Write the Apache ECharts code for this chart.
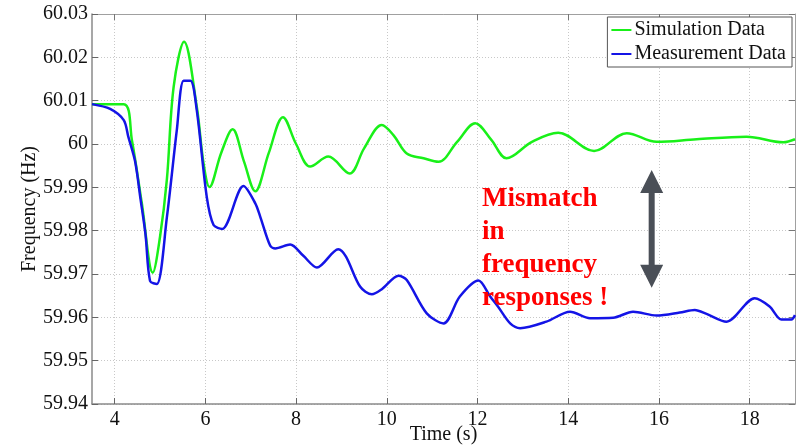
<!DOCTYPE html>
<html>
<head>
<meta charset="utf-8">
<script src="https://cdn.jsdelivr.net/npm/echarts@6/dist/echarts.min.js"></script>
<style>
  html, body { margin: 0; padding: 0; background: #ffffff; }
  #chart { width: 802px; height: 446px; }
</style>
</head>
<body>
<div id="chart"></div>
<script>
// Time (s) / frequency (Hz) samples for both traces
const simTime = [3.5, 4.2, 4.38, 4.6, 4.84, 5.0, 5.15, 5.3, 5.53, 5.81, 5.96, 6.09, 6.35, 6.6, 6.85, 7.1, 7.4, 7.71, 8.0, 8.31, 8.71, 9.18, 9.5, 9.89, 10.15, 10.44, 10.81, 11.14, 11.55, 11.95, 12.3, 12.64, 13.2, 13.78, 14.57, 15.29, 15.95, 16.83, 17.93, 18.74, 19.0];
const simFreq = [60.0092, 60.0092, 60.0009, 59.9862, 59.9703, 59.9786, 59.9917, 60.0132, 60.0236, 60.0086, 59.9955, 59.9901, 59.9980, 60.0034, 59.9960, 59.9891, 59.9980, 60.0062, 60.0000, 59.9948, 59.9971, 59.9932, 59.9990, 60.0044, 60.0020, 59.9978, 59.9967, 59.9959, 60.0005, 60.0048, 60.0010, 59.9967, 60.0005, 60.0026, 59.9984, 60.0025, 60.0005, 60.0011, 60.0017, 60.0004, 60.0011];

const measTime = [3.5, 3.9, 4.2, 4.3, 4.45, 4.57, 4.68, 4.78, 4.93, 5.15, 5.37, 5.52, 5.67, 5.81, 6.03, 6.18, 6.37, 6.84, 7.1, 7.21, 7.43, 7.54, 7.87, 8.16, 8.46, 8.93, 9.1, 9.41, 9.67, 9.89, 10.26, 10.44, 10.88, 11.25, 11.61, 12.02, 12.28, 12.45, 12.72, 12.94, 13.52, 14.04, 14.48, 14.99, 15.43, 15.95, 16.46, 16.79, 17.05, 17.49, 18.11, 18.44, 18.7, 18.92, 19.0];
const measFreq = [60.0092, 60.0081, 60.0055, 60.0017, 59.9960, 59.9873, 59.9791, 59.9684, 59.9677, 59.9830, 60.0032, 60.0146, 60.0146, 60.0078, 59.9878, 59.9813, 59.9804, 59.9903, 59.9863, 59.9832, 59.9765, 59.9759, 59.9768, 59.9742, 59.9715, 59.9757, 59.9740, 59.9671, 59.9653, 59.9665, 59.9696, 59.9686, 59.9609, 59.9586, 59.9648, 59.9685, 59.9648, 59.9625, 59.9586, 59.9575, 59.9590, 59.9613, 59.9598, 59.9599, 59.9613, 59.9604, 59.9611, 59.9617, 59.9608, 59.9590, 59.9644, 59.9625, 59.9595, 59.9595, 59.9605];

const timeTicks = [4, 6, 8, 10, 12, 14, 16, 18];
const seriesNames = ['Simulation Data', 'Measurement Data'];
const noteLines = ['Mismatch', 'in', 'frequency', 'responses !'];

const FONT = '"Liberation Serif", "Times New Roman", serif';
const AXIS_GRAY = '#8a8a8a';

function pairs(xs, ys) { return xs.map((x, i) => [x, ys[i]]); }

const chart = echarts.init(document.getElementById('chart'), null, { renderer: 'canvas' });

const gridLine = { show: true, lineStyle: { color: '#c8c8c8', type: [1, 2], width: 1 } };

const option = {
  backgroundColor: '#ffffff',
  animation: false,
  grid: { left: 92, right: 7, top: 14, bottom: 42, containLabel: false, outerBoundsMode: 'none' },
  legend: {
    data: seriesNames,
    orient: 'vertical',
    right: 10,
    top: 17,
    padding: [3, 6, 3, 4],
    itemGap: 4,
    itemWidth: 20,
    itemHeight: 2,
    icon: 'rect',
    backgroundColor: '#ffffff',
    borderColor: '#555555',
    borderWidth: 1,
    borderRadius: 0,
    textStyle: { fontFamily: FONT, fontSize: 20, color: '#111', lineHeight: 20, padding: [0, 0, 0, -2] }
  },
  xAxis: [
    {
      type: 'value', min: 3.5, max: 19,
      name: 'Time (s)', nameLocation: 'middle', nameGap: 21, nameMoveOverlap: false,
      nameTextStyle: { fontFamily: FONT, fontSize: 20, color: '#111', verticalAlign: 'top' },
      axisLine: { show: true, onZero: false, lineStyle: { color: AXIS_GRAY, width: 1.5 } },
      axisTick: { show: true, inside: true, length: 6, customValues: timeTicks, lineStyle: { color: '#666' } },
      axisLabel: { customValues: timeTicks, fontFamily: FONT, fontSize: 20, color: '#111', margin: 6 },
      splitLine: gridLine
    },
    {
      type: 'value', min: 3.5, max: 19, position: 'top',
      axisLine: { show: true, onZero: false, lineStyle: { color: '#a0a0a0', width: 1 } },
      axisTick: { show: true, inside: true, length: 6, customValues: timeTicks, lineStyle: { color: '#777' } },
      axisLabel: { show: false },
      splitLine: { show: false }
    }
  ],
  yAxis: [
    {
      type: 'value', min: 59.94, max: 60.03, interval: 0.01,
      name: 'Frequency (Hz)', nameLocation: 'middle', nameGap: 52, nameRotate: 90, nameMoveOverlap: false,
      nameTextStyle: { fontFamily: FONT, fontSize: 20, color: '#111' },
      axisLine: { show: true, onZero: false, lineStyle: { color: AXIS_GRAY, width: 1.5 } },
      axisTick: { show: true, inside: true, length: 6, lineStyle: { color: '#666' } },
      axisLabel: {
        fontFamily: FONT, fontSize: 20, color: '#111', margin: 4,
        formatter: v => String(+v.toFixed(2))
      },
      splitLine: gridLine
    },
    {
      type: 'value', min: 59.94, max: 60.03, interval: 0.01, position: 'right',
      axisLine: { show: true, onZero: false, lineStyle: { color: '#a0a0a0', width: 1 } },
      axisTick: { show: true, inside: true, length: 6, lineStyle: { color: '#777' } },
      axisLabel: { show: false },
      splitLine: { show: false }
    }
  ],
  series: [
    {
      name: seriesNames[0], type: 'line', data: pairs(simTime, simFreq),
      smooth: 0.35, showSymbol: false, symbol: 'none',
      lineStyle: { color: '#19f019', width: 2.5 }, itemStyle: { color: '#19f019' }, z: 3
    },
    {
      name: seriesNames[1], type: 'line', data: pairs(measTime, measFreq),
      smooth: 0.3, showSymbol: false, symbol: 'none',
      lineStyle: { color: '#1414e6', width: 2.5 }, itemStyle: { color: '#1414e6' }, z: 4
    }
  ]
};

chart.setOption(option);

// Annotation: red note and a double-headed arrow between the two traces
const noteAnchor = chart.convertToPixel({ gridIndex: 0 }, [12.1, 59.9910]);
const arrowTop = chart.convertToPixel({ gridIndex: 0 }, [15.84, 59.9940]);
const arrowBot = chart.convertToPixel({ gridIndex: 0 }, [15.84, 59.9668]);
const ax = arrowTop[0], t = arrowTop[1], b = arrowBot[1];
const head = 23, halfHead = 11.5, halfShaft = 3;
const arrowPts = [
  [ax, t], [ax + halfHead, t + head], [ax + halfShaft, t + head],
  [ax + halfShaft, b - head], [ax + halfHead, b - head], [ax, b],
  [ax - halfHead, b - head], [ax - halfShaft, b - head], [ax - halfShaft, t + head],
  [ax - halfHead, t + head]
];

chart.setOption({
  graphic: [
    {
      type: 'text', left: noteAnchor[0], top: noteAnchor[1], z: 10,
      style: {
        text: noteLines.join('\n'),
        fill: '#ff0000',
        font: 'bold 27px ' + FONT,
        lineHeight: 33
      }
    },
    {
      type: 'polygon', z: 10,
      shape: { points: arrowPts },
      style: { fill: '#4a4f57' }
    }
  ]
});
</script>
</body>
</html>
